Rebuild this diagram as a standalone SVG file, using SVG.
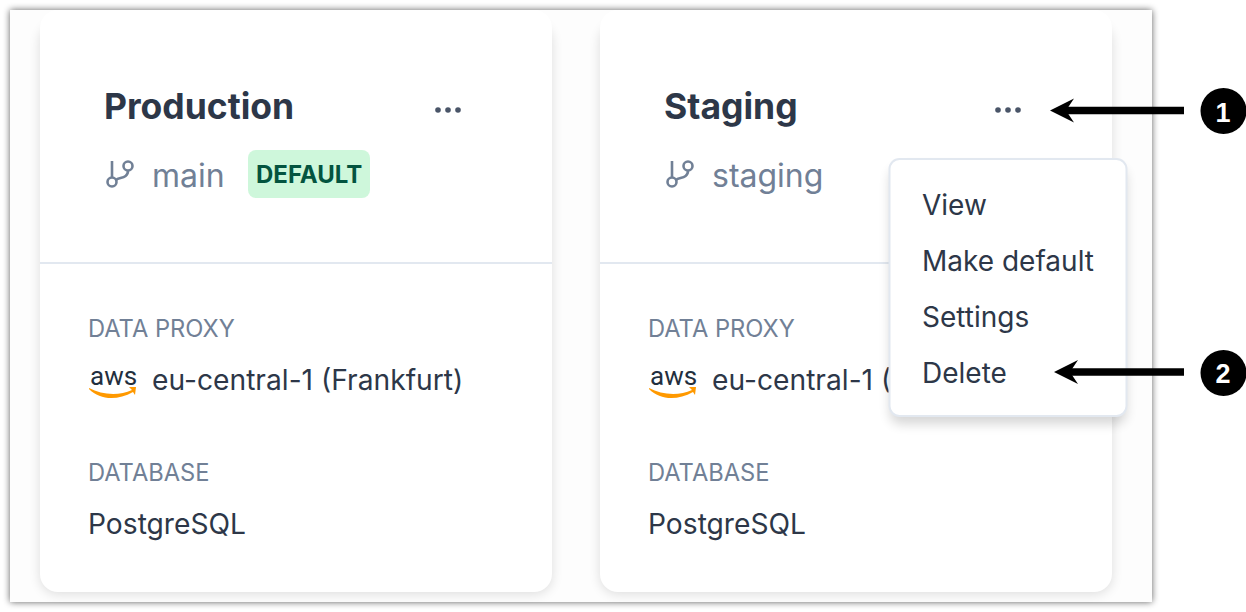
<svg xmlns="http://www.w3.org/2000/svg" width="1246" height="612" viewBox="0 0 1246 612">
<style>
text{font-family:Inter,"Liberation Sans",sans-serif}
.title{font-size:35.500px;font-weight:700;fill:#2d3748}
.branch{font-size:32px;fill:#718096}
.label{font-size:23.700px;fill:#718096}
.value{font-size:28.200px;fill:#2d3748}
.menu{font-size:28px;fill:#2d3748}
.aws{font-size:26px;fill:#232f3e;font-family:Roboto,sans-serif;font-weight:400}
.div{stroke:#e2e8f0;stroke-width:2}
.icon{fill:none;stroke:#718096;stroke-width:2.600}
.smile{fill:#f90}
.dot{fill:#4a5568}
.num{font-size:27px;font-weight:700;fill:#fff;text-anchor:middle;font-family:"Liberation Sans",sans-serif}
.conn{stroke:#000;stroke-width:7.500}
</style>
<defs>
<filter id="win" x="-5%" y="-5%" width="110%" height="110%"><feGaussianBlur stdDeviation="3.500"/></filter>
<filter id="soft" x="-10%" y="-10%" width="120%" height="120%"><feGaussianBlur stdDeviation="6"/></filter>
<path id="arrow" d="M0 0L24 -12L16 0L24 12Z" fill="#000"/>
<path id="smile" class="smile" d="M0 0C13 7 30 8 43 2L40 -1L47 -1L46 7L44 4C28 13 11 12 0 1Z"/>
<g id="branchIcon" class="icon"><circle cx="-8" cy="8" r="4.500"/><circle cx="8" cy="-8" r="4.500"/><path d="M-8 3.500V-13M8 -3.500C8 5 -1 3 -4 6"/></g>
</defs>
<rect width="1246" height="612" fill="#fff"/>
<rect x="10" y="10" width="1142" height="592" fill="#000" opacity=".62" filter="url(#win)"/>
<rect x="10" y="10" width="1142" height="592" fill="#fdfdfd"/>
<g id="card-production">
<rect x="40" y="24" width="512" height="570" rx="18" fill="#000" opacity=".13" filter="url(#soft)"/>
<rect x="40" y="10" width="512" height="582" rx="18" fill="#fff"/>
<line class="div" x1="40" y1="263" x2="552" y2="263"/>
<text class="title" x="104" y="119">Production</text>
<circle class="dot" cx="438" cy="110" r="2.800"/><circle class="dot" cx="448" cy="110" r="2.800"/><circle class="dot" cx="458" cy="110" r="2.800"/>
<use href="#branchIcon" x="120" y="174"/>
<text class="branch" x="152" y="187">main</text>
<rect x="248" y="150" width="122" height="48" rx="8" fill="#c6f6d5" opacity=".85"/>
<text x="256" y="183" font-size="24" font-weight="700" fill="#03543f">DEFAULT</text>
<text class="label" x="88" y="337">DATA PROXY</text>
<text class="aws" x="90" y="385">aws</text>
<use href="#smile" x="89" y="388"/>
<text class="value" x="152" y="390">eu-central-1 (Frankfurt)</text>
<text class="label" x="88" y="481">DATABASE</text>
<text class="value" x="88" y="534">PostgreSQL</text>
</g>
<g id="card-staging">
<rect x="600" y="24" width="512" height="570" rx="18" fill="#000" opacity=".13" filter="url(#soft)"/>
<rect x="600" y="10" width="512" height="582" rx="18" fill="#fff"/>
<line class="div" x1="600" y1="263" x2="1112" y2="263"/>
<text class="title" x="664" y="119">Staging</text>
<circle class="dot" cx="998" cy="110" r="2.800"/><circle class="dot" cx="1008" cy="110" r="2.800"/><circle class="dot" cx="1018" cy="110" r="2.800"/>
<use href="#branchIcon" x="680" y="174"/>
<text class="branch" x="712" y="187">staging</text>
<text class="label" x="648" y="337">DATA PROXY</text>
<text class="aws" x="650" y="385">aws</text>
<use href="#smile" x="649" y="388"/>
<text class="value" x="712" y="390">eu-central-1 (</text>
<text class="label" x="648" y="481">DATABASE</text>
<text class="value" x="648" y="534">PostgreSQL</text>
</g>
<g id="menu">
<rect x="890" y="168" width="236" height="256" rx="10" fill="#000" opacity=".16" filter="url(#soft)"/>
<rect x="889.500" y="159" width="237" height="257" rx="10" fill="#fff" stroke="#e2e8f0" stroke-width="2"/>
<text class="menu" x="922" y="214.500">View</text>
<text class="menu" x="922" y="270.500">Make default</text>
<text class="menu" x="922" y="326.500">Settings</text>
<text class="menu" x="922" y="382.500">Delete</text>
</g>
<g id="connectors">
<line class="conn" x1="1064" y1="110.500" x2="1184" y2="110.500"/>
<use href="#arrow" x="1050" y="110.500"/>
<line class="conn" x1="1068" y1="372" x2="1184" y2="372"/>
<use href="#arrow" x="1054" y="372"/>
</g>
<g id="callout-1"><circle cx="1223.500" cy="111" r="23" fill="#000"/><text class="num" x="1223" y="122">1</text></g>
<g id="callout-2"><circle cx="1223.500" cy="373" r="23" fill="#000"/><text class="num" x="1223" y="383">2</text></g>
</svg>
